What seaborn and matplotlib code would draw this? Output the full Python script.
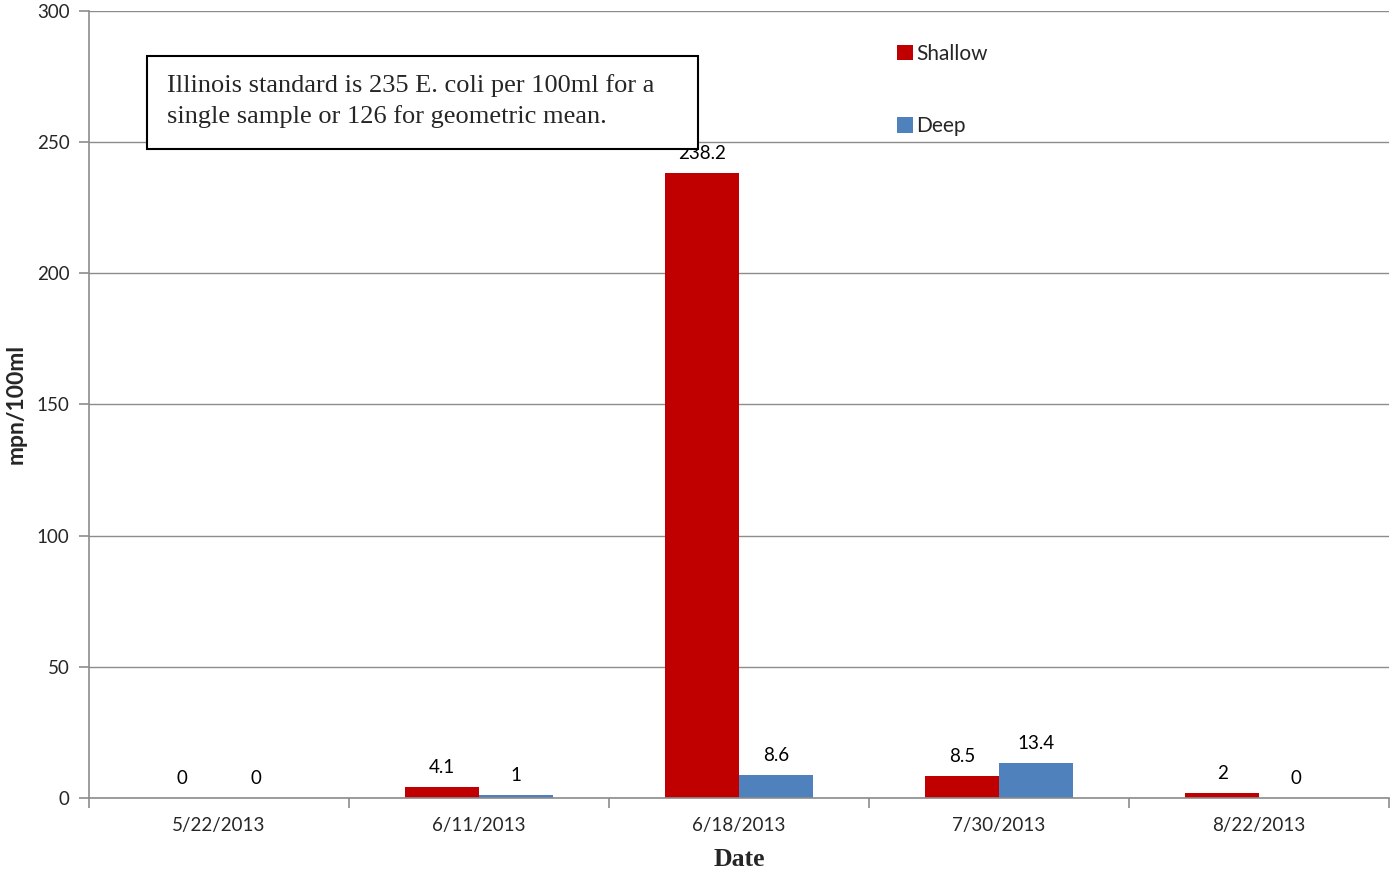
import pandas as pd
import matplotlib.pyplot as plt
from matplotlib.patches import Rectangle
import seaborn as sns

# --- data ---
dates = ["5/22/2013", "6/11/2013", "6/18/2013", "7/30/2013", "8/22/2013"]
shallow = [0, 4.1, 238.2, 8.5, 2]
deep = [0, 1, 8.6, 13.4, 0]
depths = ["Shallow", "Deep"]
y_ticks = [0, 50, 100, 150, 200, 250, 300]

df = pd.DataFrame({
    "Date": dates * 2,
    "Value": shallow + deep,
    "Depth": ["Shallow"] * len(dates) + ["Deep"] * len(dates),
})

sns.set_theme(style="white")
plt.rcParams["font.family"] = ["Lato", "DejaVu Sans"]

fig = plt.figure(figsize=(13.95, 8.74), dpi=100)
ax = fig.add_axes([0.0638, 0.087, 0.932, 0.9004])

sns.barplot(data=df, x="Date", y="Value", hue="Depth", hue_order=depths,
            palette={"Shallow": "#C00000", "Deep": "#4F81BD"},
            width=0.57, saturation=1, linewidth=0, ax=ax, legend=True)

for cont in ax.containers:
    ax.bar_label(cont, labels=[f"{v:g}" for v in cont.datavalues],
                 padding=8, fontsize=13.5, color="#000000")

ax.set_ylim(0, 300)
ax.set_xlim(-0.5, len(dates) - 0.5)
ax.set_yticks(y_ticks)
ax.yaxis.grid(True, color="#8c8c8c", linewidth=1)
ax.set_axisbelow(True)
for s in ["top", "right"]:
    ax.spines[s].set_visible(False)
for s in ["left", "bottom"]:
    ax.spines[s].set_color("#8c8c8c")
    ax.spines[s].set_linewidth(1.2)

ax.tick_params(axis="y", length=7, width=1.2, color="#8c8c8c",
               labelsize=13.5, pad=7, left=True)
ax.tick_params(axis="x", which="major", length=0, labelsize=13.5, pad=14)
ax.set_xticks([i - 0.5 for i in range(len(dates) + 1)], minor=True)
ax.tick_params(axis="x", which="minor", length=7, width=1.2,
               color="#8c8c8c", bottom=True)

ax.set_xlabel("Date", fontsize=18.5, fontweight="bold",
              family="Liberation Serif", labelpad=10)
ax.set_ylabel("mpn/100ml", fontsize=16.5, fontweight="bold", labelpad=7)

ax.legend(loc="upper left", bbox_to_anchor=(0.6215, 0.958), frameon=False,
          fontsize=15, labelspacing=2.5, handlelength=0.75,
          handleheight=0.75, handletextpad=0.15, borderpad=0,
          borderaxespad=0)

# note box (fixed size, like the Excel text box)
ax.add_patch(Rectangle((0.0446, 0.8247), 0.4239, 0.1181,
                       transform=ax.transAxes, facecolor="white",
                       edgecolor="black", linewidth=1.5, zorder=5))
ax.text(0.06, 0.8855,
        "Illinois standard is 235 E. coli per 100ml for a\n"
        "single sample or 126 for geometric mean.",
        transform=ax.transAxes, va="center", ha="left",
        family="Liberation Serif", fontsize=19, linespacing=1.45, zorder=6)

fig.savefig("out.png", dpi=100)
